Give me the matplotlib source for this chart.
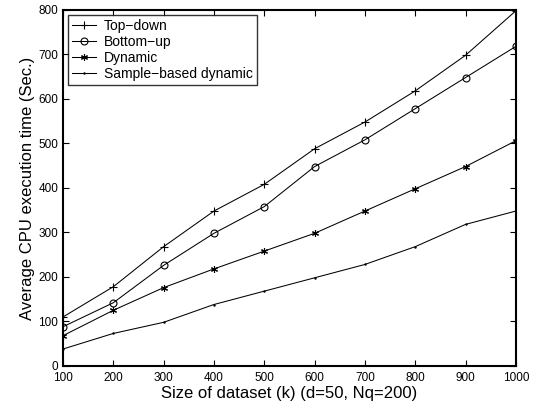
import matplotlib
matplotlib.use("Agg")
import matplotlib.pyplot as plt

plt.rcParams['font.family'] = ['Liberation Sans', 'DejaVu Sans']

sizes = [100, 200, 300, 400, 500, 600, 700, 800, 900, 1000]
top_down = [110, 178, 268, 348, 408, 488, 548, 618, 698, 798]
bottom_up = [88, 142, 226, 298, 358, 448, 508, 578, 648, 718]
dynamic = [68, 125, 176, 218, 258, 298, 348, 398, 448, 506]
sample_dynamic = [38, 73, 98, 138, 168, 198, 228, 268, 318, 348]

fig = plt.figure(figsize=(5.34, 4.13), dpi=100)
ax = fig.add_axes([0.118, 0.114, 0.848, 0.862])

ax.plot(sizes, top_down, 'k-', marker='+', ms=5.5, mew=0.8, lw=0.75, label='Top\u2212down')
ax.plot(sizes, bottom_up, 'k-', marker='o', ms=5, mfc='none', mew=0.8, lw=0.75, label='Bottom\u2212up')
ax.plot(sizes, dynamic, 'k-', marker=(6, 2, 0), ms=5, mew=0.8, lw=0.75, label='Dynamic')
ax.plot(sizes, sample_dynamic, 'k-', marker='.', ms=1.5, lw=0.75, label='Sample\u2212based dynamic')

ax.set_xlim(100, 1000)
ax.set_ylim(0, 800)
ax.set_xticks(sizes)
ax.set_yticks(range(0, 801, 100))
ax.tick_params(direction='in', top=True, right=True, labelsize=8.5, length=4, width=0.8)
ax.tick_params(axis='x', pad=4.5)
for s in ax.spines.values():
    s.set_linewidth(1.5)

ax.set_xlabel('Size of dataset (k) (d=50, Nq=200)', fontsize=12, labelpad=1)
ax.set_ylabel('Average CPU execution time (Sec.)', fontsize=12, labelpad=2)

leg = ax.legend(loc='upper left', fontsize=10, frameon=True, fancybox=False,
                edgecolor='black', borderaxespad=0.35, handlelength=1.7,
                labelspacing=0.15, borderpad=0.3, handletextpad=0.6)
leg.get_frame().set_linewidth(1.0)

fig.savefig('out.png', dpi=100)
